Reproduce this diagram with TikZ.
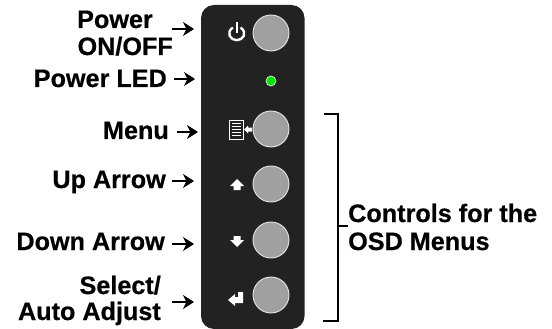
\documentclass[tikz,border=0pt]{standalone}
\usepackage{fontspec}
\setmainfont[BoldFeatures={FakeBold=0.5}]{Liberation Sans}
\usetikzlibrary{arrows.meta}
\definecolor{panel}{HTML}{222222}
\definecolor{btn}{HTML}{A0A0A0}
\definecolor{btnedge}{HTML}{E6E6E6}
\tikzset{
 lab/.style={font=\fontsize{25.2}{26}\selectfont\bfseries,inner sep=0pt,text=black},
 labr/.style={lab,anchor=base east,align=right},
 labl/.style={lab,anchor=base west,align=left},
 btnc/.style={circle,draw=btnedge,fill=btn,line width=0.9pt,minimum size=36pt,inner sep=0pt},
 ptr/.style={draw=black,line width=2.2pt,-{Stealth[length=11pt,width=14pt,inset=3.5pt,line width=1pt,sep=0pt]}},
 icon/.style={fill=white,draw=none},
 brk/.style={draw=black,line width=2pt},
}
\begin{document}
\begin{tikzpicture}[x=1pt,y=-1pt]
\useasboundingbox (0,0) rectangle (552,329);
\fill[panel,rounded corners=13pt] (201,5) rectangle (304.5,329);
\node[btnc] (b1) at (271,33) {};
\node[btnc] (b2) at (271,129) {};
\node[btnc] (b3) at (271,184) {};
\node[btnc] (b4) at (271,240) {};
\node[btnc] (b5) at (271,295) {};
\node[circle,fill=green!90!black,draw=white,line width=0.6pt,minimum size=10pt,inner sep=0pt] (led) at (271,81) {};
% power icon
\draw[white,line width=2.4pt] (232.8,27.5) .. controls (225.5,33) and (230.5,40.2) .. (236.7,40.2) .. controls (243,40.2) and (248,33) .. (240.6,27.5);
\draw[white,line width=2.4pt] (236.7,22) -- (236.7,33);
% menu icon
\draw[white,line width=0.9pt,fill=panel] (229,120) rectangle (243,139);
\foreach \yy in {123.5,126.5,129.5,132.5,135.5}{\draw[white,line width=1.2pt] (231.5,\yy) -- (240.5,\yy);}
\fill[icon] (244,129.5) -- (248,125.5) -- (248,127.5) -- (252,127.5) -- (252,131.5) -- (248,131.5) -- (248,133.5) -- cycle;
% up
\fill[icon] (237,179) -- (244,186) -- (240.5,186) -- (240.5,190) -- (233.5,190) -- (233.5,186) -- (230,186) -- cycle;
% down
\fill[icon] (237,247) -- (244,240) -- (240.5,240) -- (240.5,236) -- (233.5,236) -- (233.5,240) -- (230,240) -- cycle;
% enter
\fill[icon] (228,300) -- (235,294) -- (235,297) -- (238,297) -- (238,292) -- (243,292) -- (243,303) -- (235,303) -- (235,306) -- cycle;
% labels
\node[labr] (t1) at (153,28) {Power};
\node[labr] (t1b) at (173,55) {ON/OFF};
\node[labr] (t2) at (167,87) {Power LED};
\node[labr] (t3) at (169,139) {Menu};
\node[labr] (t4) at (166,188) {Up Arrow};
\node[labr] (t5) at (165,250) {Down Arrow};
\node[labr] (t6) at (161,294) {Select/};
\node[labr] (t6b) at (161,320) {Auto Adjust};
\coordinate (a1) at (172,29); \coordinate (a1e) at (194,29);
\coordinate (a2) at (174,79); \coordinate (a2e) at (195,79);
\coordinate (a3) at (177,132); \coordinate (a3e) at (198,132);
\coordinate (a4) at (172,181); \coordinate (a4e) at (194,181);
\coordinate (a5) at (172,244); \coordinate (a5e) at (194,244);
\coordinate (a6) at (172,302); \coordinate (a6e) at (194,302);
\draw[ptr] (a1) -- (a1e);
\draw[ptr] (a2) -- (a2e);
\draw[ptr] (a3) -- (a3e);
\draw[ptr] (a4) -- (a4e);
\draw[ptr] (a5) -- (a5e);
\draw[ptr] (a6) -- (a6e);
% bracket
\coordinate (k1) at (324,114); \coordinate (k2) at (338,114); \coordinate (k3) at (338,321); \coordinate (k4) at (323,321);
\coordinate (k5) at (338,226); \coordinate (k6) at (348,226);
\draw[brk] (k1) -- (k2) -- (k3) -- (k4);
\draw[brk] (k5) -- (k6);
\node[labl] (c1) at (348,222) {Controls for the};
\node[labl] (c2) at (348,250) {OSD Menus};
\end{tikzpicture}
\end{document}
